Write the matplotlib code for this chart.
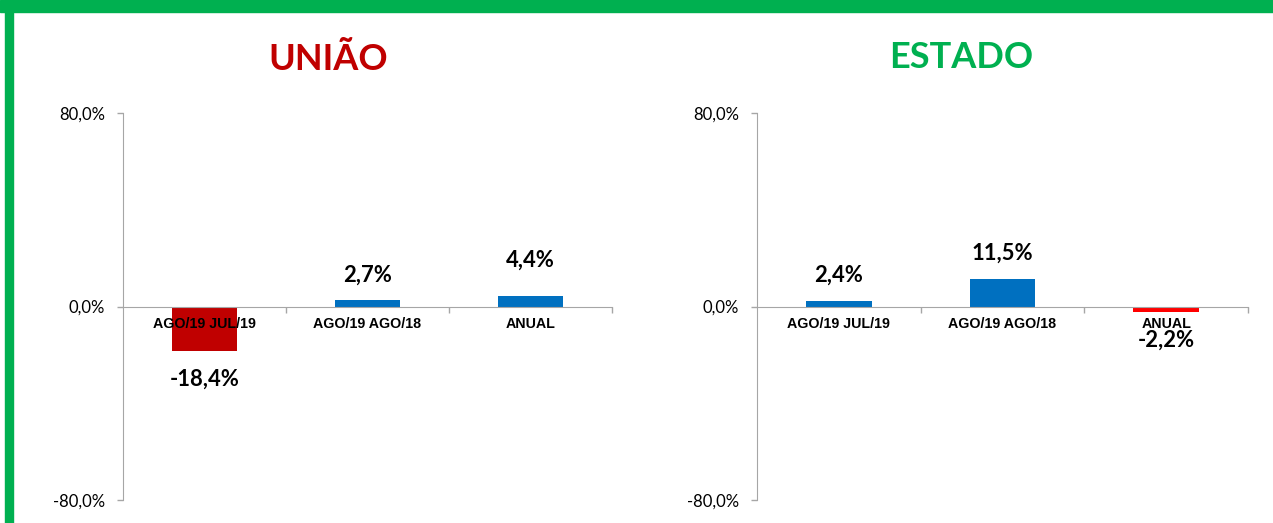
import matplotlib.pyplot as plt
from matplotlib.patches import Rectangle

categories = ['AGO/19 JUL/19', 'AGO/19 AGO/18', 'ANUAL']
uniao = [-18.4, 2.7, 4.4]
estado = [2.4, 11.5, -2.2]

BLUE = '#0070C0'
GRAY = '#A6A6A6'
GREEN = '#00B050'

fig = plt.figure(figsize=(12.73, 5.23), dpi=100)
W, H = 1273, 523

# green frame (top + left)
fig.patches.append(Rectangle((0, 1 - 12 / H), 1, 12 / H, transform=fig.transFigure,
                             color=GREEN, zorder=0))
fig.patches.append(Rectangle((5 / W, 0), 8 / W, 1, transform=fig.transFigure,
                             color=GREEN, zorder=0))


def fmt(v):
    return f'{v:.1f}%'.replace('.', ',')


def draw(ax, values, neg_color, nudges):
    colors = [BLUE if v >= 0 else neg_color for v in values]
    x = range(len(values))
    ax.bar(x, values, width=0.4, color=colors, zorder=2)
    ax.set_xlim(-0.5, len(values) - 0.5)
    ax.set_ylim(-80, 80)
    ax.set_yticks([-80, 0, 80])
    ax.set_yticklabels([fmt(t) for t in (-80, 0, 80)], fontsize=12, family='Lato')
    ax.set_xticks([0.5, 1.5, 2.5])
    ax.set_xticklabels([])
    ax.tick_params(axis='y', length=4, color=GRAY, pad=9, width=1)
    ax.tick_params(axis='x', length=4, color=GRAY, width=1, direction='out')
    for s in ('top', 'right'):
        ax.spines[s].set_visible(False)
    ax.spines['left'].set_color(GRAY)
    ax.spines['bottom'].set_color(GRAY)
    ax.spines['bottom'].set_position(('data', 0))
    ax.spines['bottom'].set_zorder(3)
    ax.patch.set_alpha(0)
    for i, (v, cat) in enumerate(zip(values, categories)):
        ax.annotate(cat, (i, 0), xytext=(0, -12.5), textcoords='offset points',
                    ha='center', va='center', fontsize=10.3, fontweight='bold',
                    family='Liberation Sans', zorder=5)
        off = (18 if v >= 0 else -20.5) + nudges[i]
        ax.annotate(fmt(v), (i, v), xytext=(0, off), textcoords='offset points',
                    ha='center', va='center', fontsize=15.8, fontweight='bold',
                    family='Lato', zorder=5)


ax1 = fig.add_axes([123 / W, 23 / H, 489 / W, 387 / H])
ax2 = fig.add_axes([757 / W, 23 / H, 491 / W, 387 / H])
draw(ax1, uniao, '#C00000', [0, 0, 8])
draw(ax2, estado, '#FF0000', [0, 0, 0])

fig.text(328 / W, 1 - 60 / H, 'UNIÃO', ha='center', va='center', fontsize=26,
         fontweight='bold', family='Lato', color='#C00000')
fig.text(961 / W, 1 - 58 / H, 'ESTADO', ha='center', va='center', fontsize=26,
         fontweight='bold', family='Lato', color=GREEN)

fig.savefig('out.png', dpi=100)
